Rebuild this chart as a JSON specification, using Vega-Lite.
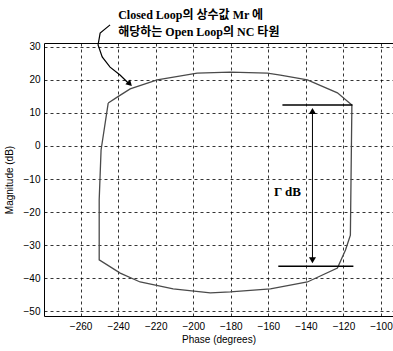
{
  "$schema": "https://vega.github.io/schema/vega-lite/v6.json",
  "width": 349,
  "height": 273,
  "autosize": {"type": "none"},
  "padding": {"left": 44, "top": 43, "right": 0, "bottom": 35},
  "background": "white",
  "config": {
    "view": {"stroke": "black", "strokeWidth": 1},
    "font": "Liberation Sans",
    "axis": {
      "domain": false,
      "grid": true,
      "gridColor": "black",
      "gridDash": [3, 3],
      "gridOpacity": 1,
      "gridWidth": 0.8,
      "ticks": false,
      "labelOverlap": false,
      "labelColor": "black",
      "labelFontSize": 10,
      "labelFont": "Liberation Sans",
      "titleFont": "Liberation Sans",
      "titleFontSize": 10,
      "titleFontWeight": "normal",
      "titleColor": "black"
    }
  },
  "datasets": {
    "nc": [
      {"o": 1, "phase": -245.3, "mag": 13.0},
      {"o": 2, "phase": -249.1, "mag": -1.2},
      {"o": 3, "phase": -250.1, "mag": -16.4},
      {"o": 4, "phase": -250.1, "mag": -34.5},
      {"o": 5, "phase": -238.9, "mag": -38.5},
      {"o": 6, "phase": -228.3, "mag": -41.2},
      {"o": 7, "phase": -210.7, "mag": -43.3},
      {"o": 8, "phase": -190.9, "mag": -44.5},
      {"o": 9, "phase": -180.3, "mag": -44.2},
      {"o": 10, "phase": -158.9, "mag": -43.3},
      {"o": 11, "phase": -139.2, "mag": -41.2},
      {"o": 12, "phase": -123.2, "mag": -37.0},
      {"o": 13, "phase": -118.9, "mag": -31.5},
      {"o": 14, "phase": -116.3, "mag": -27.0},
      {"o": 15, "phase": -115.5, "mag": 12.4},
      {"o": 16, "phase": -123.2, "mag": 16.1},
      {"o": 17, "phase": -139.2, "mag": 20.0},
      {"o": 18, "phase": -153.6, "mag": 21.5},
      {"o": 19, "phase": -160.5, "mag": 22.1},
      {"o": 20, "phase": -180.3, "mag": 22.4},
      {"o": 21, "phase": -197.9, "mag": 22.1},
      {"o": 22, "phase": -219.2, "mag": 20.0},
      {"o": 23, "phase": -233.6, "mag": 17.3},
      {"o": 24, "phase": -240.5, "mag": 14.8},
      {"o": 25, "phase": -245.3, "mag": 13.0}
    ],
    "pointer": [
      {"o": 1, "phase": -244.3, "mag": 36.7},
      {"o": 2, "phase": -249.6, "mag": 34.2},
      {"o": 3, "phase": -250.7, "mag": 30.6},
      {"o": 4, "phase": -248.5, "mag": 27.0},
      {"o": 5, "phase": -244.3, "mag": 23.9},
      {"o": 6, "phase": -239.0, "mag": 21.5},
      {"o": 7, "phase": -234.5, "mag": 19.0}
    ],
    "hlines": [
      {"phase": -152.5, "phase2": -115.2, "mag": 12.4},
      {"phase": -154.7, "phase2": -114.7, "mag": -36.4}
    ],
    "vline": [{"phase": -136.5, "mag": 11.0, "mag2": -35.0}],
    "heads": [
      {"phase": -136.5, "mag": 10.6, "shape": "triangle-up"},
      {"phase": -136.5, "mag": -34.6, "shape": "triangle-down"}
    ],
    "ptrhead": [{"phase": -233.8, "mag": 18.8}],
    "labels": [
      {"phase": -240.0, "mag": 39.7, "text": "Closed Loop의 상수값 Mr 에"},
      {"phase": -240.0, "mag": 34.4, "text": "해당하는 Open Loop의 NC 타원"}
    ],
    "gamma": [{"phase": -157.0, "mag": -13.9, "text": "Γ dB"}]
  },
  "encoding": {
    "x": {
      "field": "phase", "type": "quantitative",
      "scale": {"domain": [-279.5, -93.6], "nice": false, "zero": false},
      "axis": {
        "values": [-260, -240, -220, -200, -180, -160, -140, -120, -100],
        "title": "Phase (degrees)",
        "labelPadding": 5,
        "titlePadding": 3,
        "labelOverlap": false,
        "labelFlush": false
      }
    },
    "y": {
      "field": "mag", "type": "quantitative",
      "scale": {"domain": [-51.5, 31.2], "nice": false, "zero": false},
      "axis": {
        "values": [-50, -40, -30, -20, -10, 0, 10, 20, 30],
        "title": "Magnitude (dB)",
        "labelPadding": 4,
        "titlePadding": 9,
        "labelOverlap": false,
        "labelFlush": false
      }
    }
  },
  "layer": [
    {
      "data": {"name": "nc"},
      "mark": {"type": "line", "color": "#4a4a4a", "strokeWidth": 1.3, "clip": true},
      "encoding": {
        "order": {"field": "o", "type": "quantitative"}
      }
    },
    {
      "data": {"name": "pointer"},
      "mark": {"type": "line", "color": "black", "strokeWidth": 1.2},
      "encoding": {
        "order": {"field": "o", "type": "quantitative"}
      }
    },
    {
      "data": {"name": "ptrhead"},
      "mark": {"type": "point", "shape": "triangle-down", "filled": true, "color": "black", "size": 45, "angle": 315, "opacity": 1},
      "encoding": {}
    },
    {
      "data": {"name": "hlines"},
      "mark": {"type": "rule", "color": "black", "strokeWidth": 1.5},
      "encoding": {
        "x2": {"field": "phase2"}
      }
    },
    {
      "data": {"name": "vline"},
      "mark": {"type": "rule", "color": "black", "strokeWidth": 1},
      "encoding": {
        "y2": {"field": "mag2"}
      }
    },
    {
      "data": {"name": "heads"},
      "mark": {"type": "point", "filled": true, "color": "black", "size": 50, "opacity": 1},
      "encoding": {
        "shape": {"field": "shape", "type": "nominal", "scale": null, "legend": null}
      }
    },
    {
      "data": {"name": "labels"},
      "mark": {"type": "text", "align": "left", "baseline": "middle", "font": "Liberation Serif, 'Noto Sans CJK KR'", "fontWeight": "bold", "fontSize": 12, "color": "black"},
      "encoding": {
        "text": {"field": "text", "type": "nominal"}
      }
    },
    {
      "data": {"name": "gamma"},
      "mark": {"type": "text", "align": "left", "baseline": "middle", "font": "Liberation Serif", "fontWeight": "bold", "fontSize": 13, "color": "black"},
      "encoding": {
        "text": {"field": "text", "type": "nominal"}
      }
    }
  ]
}
